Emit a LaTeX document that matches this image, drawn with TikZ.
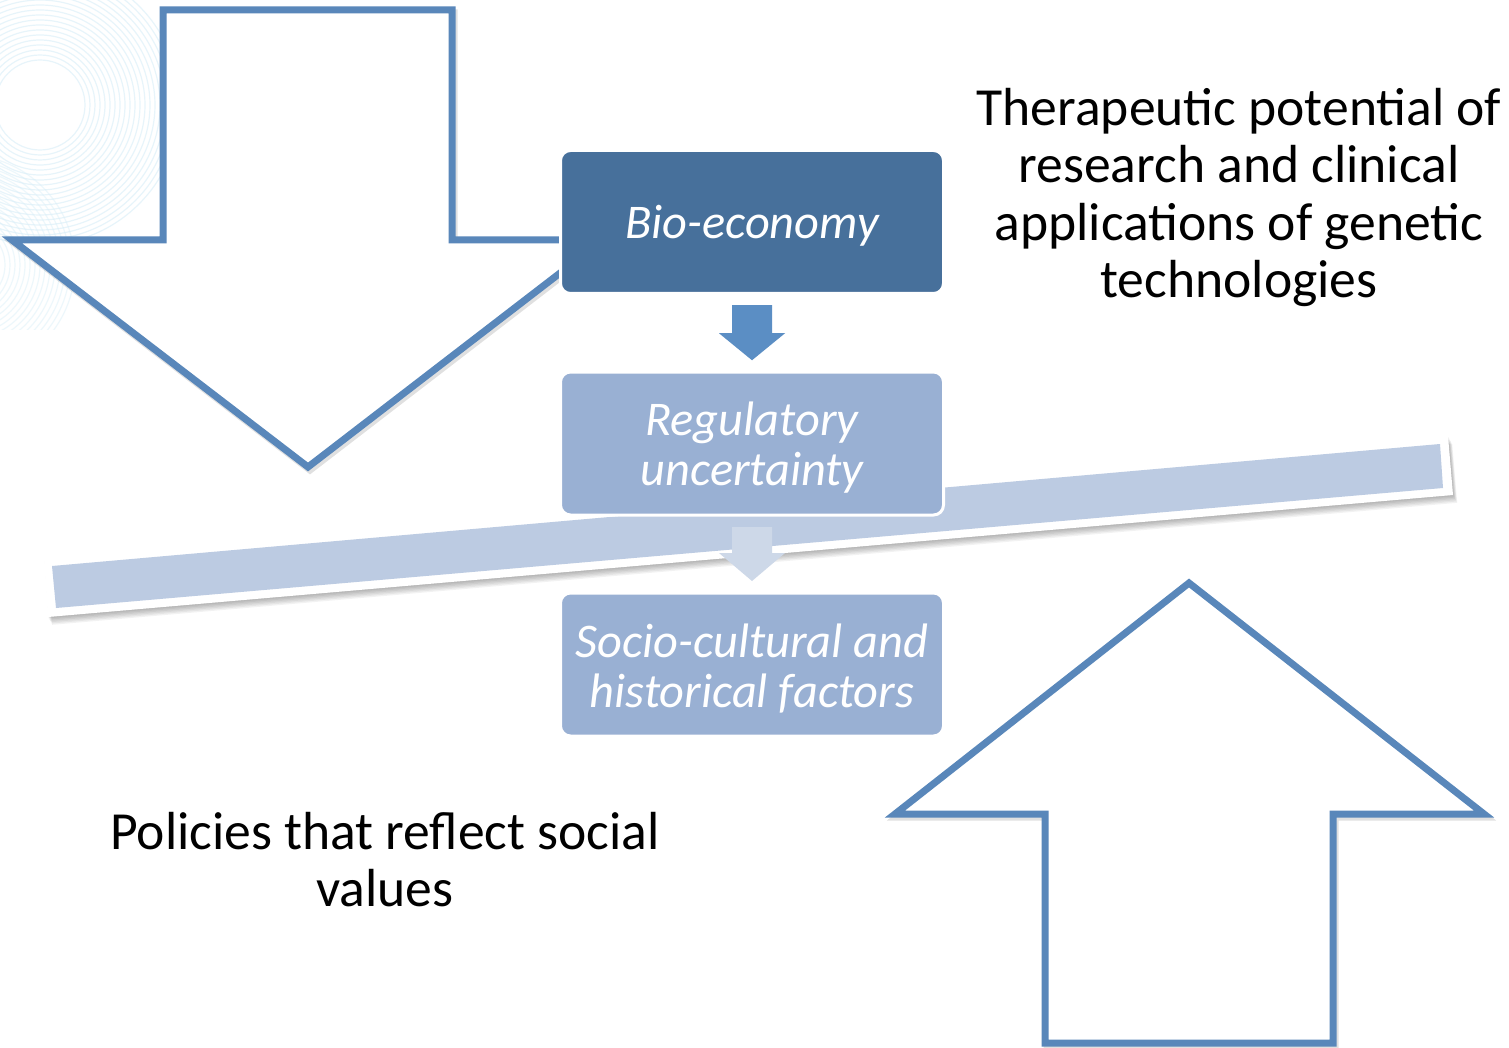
\documentclass[tikz,border=0pt]{standalone}
\usepackage{fontspec}
\setmainfont{Carlito}
\usetikzlibrary{calc}
\definecolor{arrowline}{HTML}{5987BA}
\definecolor{biofill}{HTML}{47709B}
\definecolor{lightfill}{HTML}{99B0D3}
\definecolor{plankfill}{HTML}{BCCBE2}
\definecolor{darkarrow}{HTML}{5B8EC4}
\definecolor{lightarrow}{HTML}{CDD8E8}
\definecolor{swirlcol}{HTML}{D8EEF8}
\tikzset{
  bigarrow/.style={draw=arrowline, fill=white, line width=7pt, miter limit=10},
  arrowshadow/.style={draw=black, opacity=0.12, line width=7pt},
  flowbox/.style={rectangle, rounded corners=10pt, draw=white, line width=3pt,
    minimum width=383pt, minimum height=143pt, inner sep=0pt},
  boxtext/.style={inner sep=0pt, text=white, align=center,
    font=\fontsize{48.4}{50}\selectfont\itshape},
  bigtext/.style={align=center, inner sep=0pt, text=black, font=\fontsize{53.6}{57.5}\selectfont},
  swirl/.style={draw=swirlcol, line width=1.2pt}
}
\begin{document}
\begin{tikzpicture}[x=1pt,y=-1pt]
\useasboundingbox (0,0) rectangle (1509,1048);
\fill[white] (0,0) rectangle (1509,1048);
% background swirl
\begin{scope}
  \clip (0,0) rectangle (165,330);
  \foreach \r in {45,50,...,140} \draw[swirl, opacity=0.6] (40,105) circle[radius=\r pt];
  \foreach \r in {40,45,...,110} \draw[swirl, opacity=0.45] (-35,265) circle[radius=\r pt];
\end{scope}
% big outline arrows
\begin{scope}[shift={(2,3)}]
  \draw[arrowshadow] (163,10) -- (452,10) -- (452,240) -- (603,240) -- (308,467) -- (12,240) -- (163,240) -- cycle;
  \draw[arrowshadow] (1045,1043) -- (1045,814) -- (895,814) -- (1189,583) -- (1484,814) -- (1333,814) -- (1333,1043) -- cycle;
\end{scope}
\draw[bigarrow] (163,10) -- (452,10) -- (452,240) -- (603,240) -- (308,467) -- (12,240) -- (163,240) -- cycle;
\draw[bigarrow] (1045,1043) -- (1045,814) -- (895,814) -- (1189,583) -- (1484,814) -- (1333,814) -- (1333,1043) -- cycle;
% plank shadow
\foreach \i in {1,...,6} {
  \begin{scope}[shift={(\i*0.7,\i*1.3)}]
    \fill[black, opacity=0.05] (44,558) -- (1448,436) -- (1453,495) -- (48,617) -- cycle;
  \end{scope}
}
% plank
\fill[white] (44,558) -- (1448,436) -- (1453,495) -- (48,617) -- cycle;
\fill[plankfill] (52,566) -- (1440,444) -- (1443,488) -- (56,608) -- cycle;
% boxes
\node[flowbox, fill=biofill] (bio) at (752,222) {};
\node[flowbox, fill=lightfill] (reg) at (752,443.5) {};
\node[flowbox, fill=lightfill] (soc) at (752,664.5) {};
\node[boxtext] (biotext) at ($(bio.center)+(0,4)$) {Bio-economy};
\node[boxtext] (regtext) at ($(reg.center)+(0,4)$) {Regulatory\\uncertainty};
\node[boxtext] (soctext) at ($(soc.center)+(0,4)$) {Socio-cultural and\\historical factors};
% small block arrows between boxes
\coordinate (m1) at ($(bio.south)!0.5!(reg.north)$);
\coordinate (m2) at ($(reg.south)!0.5!(soc.north)$);
\fill[darkarrow] (m1) ++(-20,-27.5) -- ++(40,0) -- ++(0,28) -- ++(13,0) -- ++(-33,27) -- ++(-33,-27) -- ++(13,0) -- cycle;
\fill[lightarrow] (m2) ++(-20,-27) -- ++(40,0) -- ++(0,26) -- ++(13,0) -- ++(-33,28) -- ++(-33,-28) -- ++(13,0) -- cycle;
% texts
\node[bigtext, anchor=north] (ther) at (1239,88) {Therapeutic potential of\\research and clinical\\applications of genetic\\technologies};
\node[bigtext, anchor=north] (pol) at (385,812) {Policies that reflect social\\values};
\end{tikzpicture}
\end{document}
